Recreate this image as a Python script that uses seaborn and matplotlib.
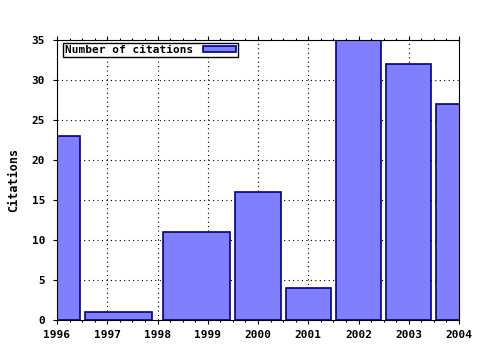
import matplotlib
matplotlib.use("Agg")
import matplotlib.pyplot as plt
import seaborn as sns
import pandas as pd
from matplotlib.patches import Patch
from matplotlib.ticker import MultipleLocator

# ---- data ----
years = [1996, 1997, 1999, 2000, 2001, 2002, 2003, 2004]
citations = [23, 1, 11, 16, 4, 35, 32, 27]
tick_years = [1996, 1997, 1998, 1999, 2000, 2001, 2002, 2003, 2004]
y_ticks = [0, 5, 10, 15, 20, 25, 30, 35]
series_label = "Number of citations"
y_label = "Citations"

df = pd.DataFrame({"year": years, "citations": citations})

# relative box width like gnuplot "boxwidth 0.9 relative"
rel = 0.9
lefts, widths = [], []
for i, x in enumerate(years):
    prev_gap = x - years[i - 1] if i > 0 else years[i + 1] - x
    next_gap = years[i + 1] - x if i < len(years) - 1 else x - years[i - 1]
    l = x - rel * prev_gap / 2
    r = x + rel * next_gap / 2
    lefts.append(l)
    widths.append(r - l)
df["left"] = lefts
df["width"] = widths

sns.set_style("white")
plt.rcParams["font.family"] = ["DejaVu Sans Mono"]
plt.rcParams["font.weight"] = "bold"
plt.rcParams["text.color"] = "black"
plt.rcParams["axes.labelcolor"] = "black"
plt.rcParams["axes.edgecolor"] = "black"

fill = "#8080ff"
edge = "#000080"

fig = plt.figure(figsize=(4.8, 3.5), dpi=100)
ax = fig.add_axes([57 / 480, 30 / 350, 402 / 480, 280 / 350])

ax.bar(df["left"], df["citations"], width=df["width"], align="edge",
       color=fill, edgecolor=edge, linewidth=1.2, zorder=2)

ax.set_xlim(tick_years[0], tick_years[-1])
ax.set_ylim(y_ticks[0], y_ticks[-1])
ax.set_xticks(tick_years)
ax.set_xticklabels([str(t) for t in tick_years])
ax.set_yticks(y_ticks)
ax.xaxis.set_minor_locator(MultipleLocator(0.25))

ax.grid(True, which="major", color="black", linestyle=(0, (1, 3)), linewidth=0.8)
ax.set_axisbelow(True)

for s in ax.spines.values():
    s.set_color("black")
    s.set_linewidth(0.8)

ax.tick_params(axis="x", which="major", direction="out", bottom=True, top=True,
               length=3, width=0.8, color="black", labelsize=8, labelcolor="black", pad=4)
ax.tick_params(axis="x", which="minor", direction="out", bottom=True, top=True,
               length=1.5, width=0.8, color="black")
ax.tick_params(axis="y", which="major", direction="out", left=True, right=False,
               length=3, width=0.8, color="black", labelsize=8, labelcolor="black", pad=5.5)

ax.set_ylabel(y_label, fontsize=8.5, fontweight="bold")
ax.yaxis.set_label_coords((20 - 57) / 402, 0.5)

handle = Patch(facecolor=fill, edgecolor=edge, linewidth=1.2)
leg = ax.legend([handle], [series_label], loc="upper left",
                bbox_to_anchor=(63 / 480, 1 - 43 / 350), bbox_transform=fig.transFigure,
                markerfirst=False, fancybox=False, framealpha=1, edgecolor="black",
                borderpad=0.2, handlelength=2.9, handleheight=0.5, handletextpad=0.9,
                borderaxespad=0, prop=dict(family="DejaVu Sans Mono", weight="bold", size=8))
leg.get_frame().set_linewidth(1.0)

fig.savefig("out.png", dpi=100)
